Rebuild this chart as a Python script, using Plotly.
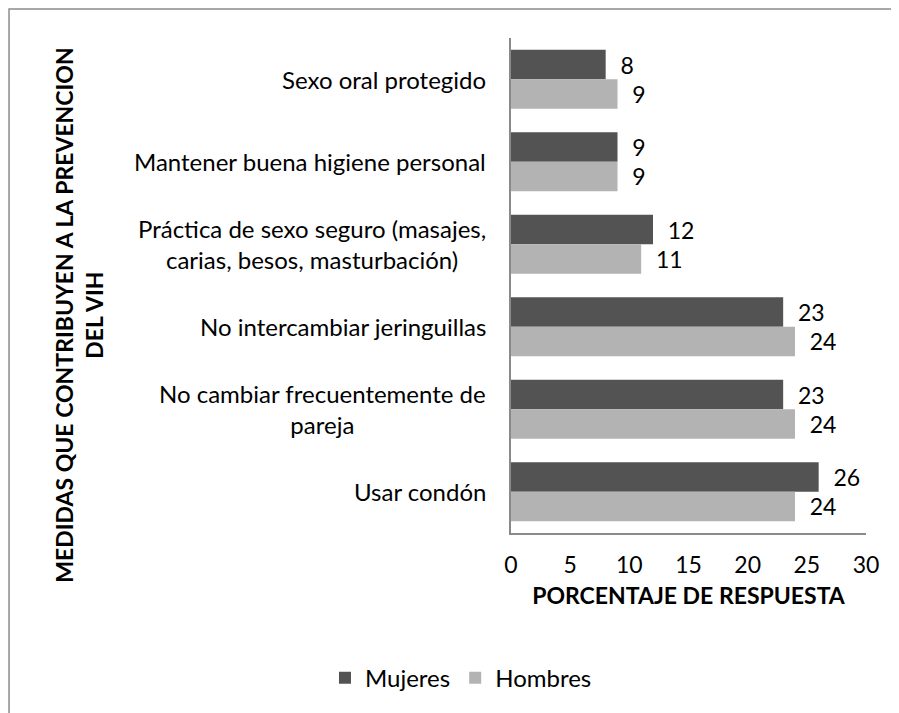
import plotly.graph_objects as go

# Data
categories = [
    "Sexo oral protegido",
    "Mantener buena higiene personal",
    "Práctica de sexo seguro (masajes,<br>carias, besos, masturbación)",
    "No intercambiar jeringuillas",
    "No cambiar frecuentemente de<br>pareja",
    "Usar condón",
]
mujeres = [8, 9, 12, 23, 23, 26]
hombres = [9, 9, 11, 24, 24, 24]
x_ticks = [0, 5, 10, 15, 20, 25, 30]

font_name = "Lato"
dark = "#535353"
light = "#b3b3b3"
axis_grey = "#8a8a8a"

fig = go.Figure()
for name, vals, col in [("Mujeres", mujeres, dark), ("Hombres", hombres, light)]:
    fig.add_trace(go.Bar(y=categories, x=vals, name=name, orientation="h",
                         marker_color=col, marker_line_width=0,
                         texttemplate="\u00a0\u00a0%{x}", textposition="outside",
                         textfont=dict(size=23, color="black"), cliponaxis=False))

# category labels, lines centred like the original
for c in categories:
    fig.add_annotation(x=-0.0648, y=c, xref="paper", yref="y", text=c,
                       showarrow=False, xanchor="right", align="center",
                       font=dict(size=24, color="black", family=font_name))

fig.add_annotation(x=-1.305, y=0.4404, xref="paper", yref="paper",
                   text="<b>MEDIDAS QUE CONTRIBUYEN A LA PREVENCION<br>DEL VIH</b>",
                   textangle=-90, showarrow=False, align="center",
                   font=dict(size=23, color="black", family=font_name))

# outer frame
fig.add_shape(type="rect", xref="paper", yref="paper",
              x0=-1.414, x1=1.3, y0=-0.5, y1=1.0586,
              line=dict(color="#8c8c8c", width=1.5))

fig.update_layout(
    width=883, height=705,
    margin=dict(l=503, r=25, t=30, b=180),
    plot_bgcolor="white", paper_bgcolor="white",
    font=dict(family=font_name, size=23, color="black"),
    barmode="group", bargap=0.287, bargroupgap=0,
    showlegend=True,
    legend=dict(orientation="h", xref="container", yref="container",
                x=0.513, xanchor="center", y=0.0496, yanchor="middle",
                font=dict(size=24), traceorder="normal"),
    xaxis=dict(range=[0, 30], tickvals=x_ticks, showgrid=False, zeroline=False,
               showline=True, linecolor=axis_grey, linewidth=1.5,
               ticks="", ticklabelstandoff=11,
               title=dict(text="<b>PORCENTAJE DE RESPUESTA</b>", standoff=11,
                          font=dict(size=23))),
    yaxis=dict(autorange="reversed", showticklabels=False, showgrid=False,
               showline=True, linecolor=axis_grey, linewidth=1.5, ticks=""),
)

fig.write_html("out.html")
